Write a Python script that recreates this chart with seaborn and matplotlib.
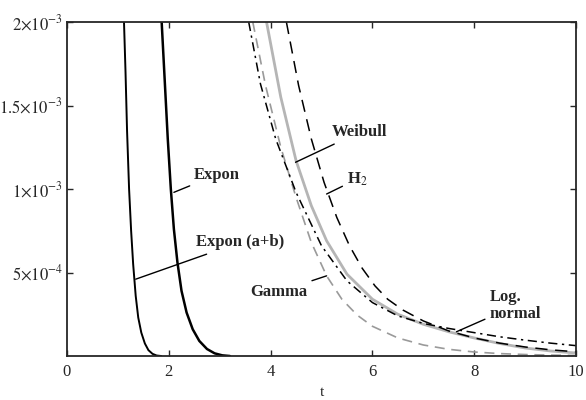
import numpy as np
import pandas as pd
import seaborn as sns
import matplotlib
matplotlib.use("Agg")
import matplotlib.pyplot as plt

# curve values (t, density)
expon_ab_t = [1.12, 1.15, 1.18, 1.22, 1.26, 1.30, 1.35, 1.40, 1.46, 1.53, 1.60, 1.68, 1.76, 1.85]
expon_ab_v = [2e-3, 1.7e-3, 1.35e-3, 1.0e-3, 7.5e-4, 5.5e-4, 3.6e-4, 2.3e-4, 1.4e-4, 7.5e-5, 3.5e-5, 1.3e-5, 3e-6, 0.0]

expon_t = [1.86, 1.92, 1.98, 2.04, 2.10, 2.17, 2.25, 2.35, 2.47, 2.60, 2.75, 2.90, 3.05, 3.20]
expon_v = [2e-3, 1.65e-3, 1.3e-3, 1.0e-3, 7.6e-4, 5.6e-4, 3.9e-4, 2.6e-4, 1.6e-4, 9e-5, 4.2e-5, 1.6e-5, 4e-6, 0.0]

lognorm_t = [3.57, 3.8, 4.1, 4.5, 5.0, 5.5, 6.0, 6.5, 7.0, 7.5, 8.0, 8.5, 9.0, 9.5, 10.0]
lognorm_v = [2e-3, 1.63e-3, 1.3e-3, 9.8e-4, 6.6e-4, 4.5e-4, 3.2e-4, 2.4e-4, 1.95e-4, 1.65e-4, 1.4e-4, 1.15e-4, 9.5e-5, 7.7e-5, 6.2e-5]

weibull_t = [3.92, 4.2, 4.5, 4.8, 5.1, 5.5, 6.0, 6.5, 7.0, 7.5, 8.0, 8.5, 9.0, 9.5, 10.0]
weibull_v = [2e-3, 1.55e-3, 1.17e-3, 9.0e-4, 6.9e-4, 4.9e-4, 3.4e-4, 2.5e-4, 1.9e-4, 1.45e-4, 1.08e-4, 7.5e-5, 4.8e-5, 3e-5, 1.8e-5]

h2_t = [4.31, 4.55, 4.8, 5.05, 5.3, 5.55, 5.8, 6.05, 6.3, 6.6, 7.0, 7.5, 8.0, 8.5, 9.0, 9.5, 10.0]
h2_v = [2e-3, 1.62e-3, 1.3e-3, 1.04e-3, 8.3e-4, 6.6e-4, 5.25e-4, 4.2e-4, 3.4e-4, 2.75e-4, 2.1e-4, 1.5e-4, 1.08e-4, 7.7e-5, 5.4e-5, 3.7e-5, 2.5e-5]

gamma_t = [3.65, 3.9, 4.2, 4.5, 4.8, 5.1, 5.4, 5.7, 6.0, 6.5, 7.0, 7.5, 8.0, 8.5, 9.0, 9.5, 10.0]
gamma_v = [2e-3, 1.62e-3, 1.25e-3, 9.5e-4, 6.8e-4, 4.8e-4, 3.4e-4, 2.45e-4, 1.78e-4, 1.08e-4, 6.6e-5, 4e-5, 2.4e-5, 1.45e-5, 8.8e-6, 5.3e-6, 3.2e-6]

x_ticks = [0, 2, 4, 6, 8, 10]
y_ticks = [5e-4, 1e-3, 1.5e-3, 2e-3]
y_tick_labels = [r"$5{\times}10^{-4}$", r"$1{\times}10^{-3}$", r"$1.5{\times}10^{-3}$", r"$2{\times}10^{-3}$"]

sns.set_style("ticks")
plt.rcParams["font.family"] = ["Liberation Serif", "DejaVu Serif"]
plt.rcParams["mathtext.fontset"] = "stix"

fig = plt.figure(figsize=(5.86, 4.0), dpi=100)
ax = fig.add_axes([0.1143, 0.11, 0.8687, 0.835])

sns.lineplot(x=expon_ab_t, y=expon_ab_v, ax=ax, color="black", lw=1.4, sort=False)
sns.lineplot(x=expon_t, y=expon_v, ax=ax, color="black", lw=1.8, sort=False)
sns.lineplot(x=gamma_t, y=gamma_v, ax=ax, color="#9a9a9a", lw=1.2, sort=False, linestyle=(0, (6, 4)))
sns.lineplot(x=weibull_t, y=weibull_v, ax=ax, color="#b5b5b5", lw=2.0, sort=False)
sns.lineplot(x=lognorm_t, y=lognorm_v, ax=ax, color="black", lw=1.1, sort=False, linestyle=(0, (6, 3, 1.5, 3)))
sns.lineplot(x=h2_t, y=h2_v, ax=ax, color="black", lw=1.1, sort=False, linestyle=(0, (8, 5)))

ax.set_xlim(0, 10)
ax.set_ylim(0, 2e-3)
ax.set_xticks(x_ticks)
ax.set_yticks(y_ticks)
ax.set_yticklabels(y_tick_labels)
ax.tick_params(direction="in", length=4, width=1, labelsize=12, top=True, right=True)
ax.tick_params(axis="x", pad=6)
ax.tick_params(axis="y", pad=3)
for s in ax.spines.values():
    s.set_linewidth(1.3)
ax.set_xlabel("t", fontsize=11)
ax.set_ylabel("")

# curve annotations with pointer lines
lab = dict(fontsize=12, fontweight="bold", va="center")
arrow = dict(arrowstyle="-", color="black", lw=1, shrinkA=1, shrinkB=0)
ax.annotate("Expon", xy=(2.1, 9.8e-4), xytext=(2.5, 1.086e-3), ha="left", arrowprops=arrow, **lab)
ax.annotate("Expon (a+b)", xy=(1.35, 4.6e-4), xytext=(2.53, 6.8e-4), ha="left", arrowprops=arrow, **lab)
ax.annotate("Weibull", xy=(4.49, 1.16e-3), xytext=(5.2, 1.34e-3), ha="left", arrowprops=arrow, **lab)
ax.annotate(r"H$_2$", xy=(5.1, 9.7e-4), xytext=(5.5, 1.06e-3), ha="left", arrowprops=arrow, **lab)
ax.annotate("Gamma", xy=(5.1, 4.8e-4), xytext=(3.6, 3.85e-4), ha="left", arrowprops=arrow, **lab)
ax.annotate("Log.\nnormal", xy=(7.65, 1.45e-4), xytext=(8.3, 3.0e-4), ha="left",
            linespacing=1.1, arrowprops=arrow, **lab)

fig.savefig("out.png", dpi=100)
